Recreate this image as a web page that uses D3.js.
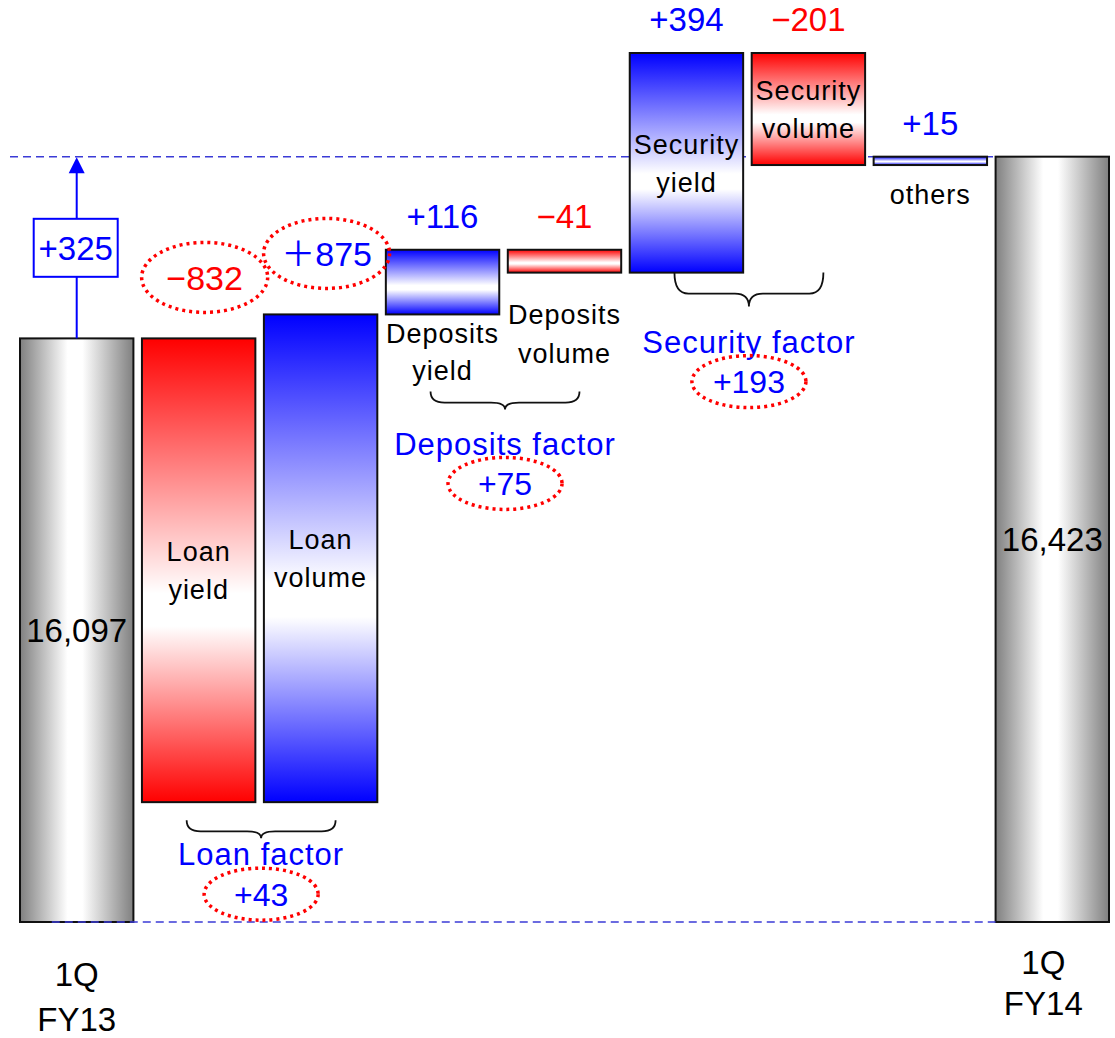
<!DOCTYPE html>
<html>
<head>
<meta charset="utf-8">
<script src="https://cdn.jsdelivr.net/npm/d3@7"></script>
<style>
  html, body { margin: 0; padding: 0; background: #fff; }
  svg { display: block; }
  text { font-family: "Liberation Sans", Arial, "Noto Sans CJK JP", sans-serif; }
</style>
</head>
<body>
<svg id="chart" width="1115" height="1038"></svg>
<script>
// ---- data ----
const categories = ["1Q FY13", "Loan yield", "Loan volume", "Deposits yield", "Deposits volume",
                    "Security yield", "Security volume", "others", "1Q FY14"];
const barNames = [["1Q", "FY13"], ["Loan", "yield"], ["Loan", "volume"], ["Deposits", "yield"],
                  ["Deposits", "volume"], ["Security", "yield"], ["Security", "volume"], ["others"], ["1Q", "FY14"]];
const startValue = 16097;
const endValue = 16423;
const overallChange = 325;           // reported change between the two quarters
const totalLabels = ["16,097", "16,423"];
const deltas = [-832, 875, 116, -41, 394, -201, 15];
const deltaLabels = ["−832", "＋875", "+116", "−41", "+394", "−201", "+15"];
const factorNames = ["Loan factor", "Deposits factor", "Security factor"];
const factorMembers = [["Loan yield", "Loan volume"], ["Deposits yield", "Deposits volume"], ["Security yield", "Security volume"]];

// ---- layout ----
const baseY = 922, topY = 53;
const axisFloor = 15050;             // value at the bottom of the visible axis
const labelInside = [false, true, true, false, false, true, true, false, false];
const circledDelta = [true, true, false, false, false, false, false];
const braceDrop = [18, 77, 0];       // gap between bars (or labels) and brace
const braceHeight = [18, 18, 34];
const factorGap = [16, 34, 35];

const BLUE = "#0000ff", RED = "#ff0000";

// running totals for the waterfall
const steps = [];
let run = startValue;
steps.push({ name: categories[0], lo: axisFloor, hi: startValue, kind: "total", label: totalLabels[0] });
deltas.forEach((d, i) => {
  const from = run; run += d;
  steps.push({ name: categories[i + 1], lo: Math.min(from, run), hi: Math.max(from, run),
               kind: d >= 0 ? "up" : "down", delta: d, label: deltaLabels[i], circled: circledDelta[i] });
});
steps.push({ name: categories[8], lo: axisFloor, hi: endValue, kind: "total", label: totalLabels[1] });

const svg = d3.select("#chart");

const x = d3.scaleBand().domain(categories).range([20, 1109]).paddingInner(0.07);
const y = d3.scaleLinear().domain([axisFloor, d3.max(steps, s => s.hi)]).range([baseY, topY]);
const bw = x.bandwidth();
const cx = n => x(n) + bw / 2;

// ---- gradients ----
const defs = svg.append("defs");
const gGray = defs.append("linearGradient").attr("id", "gGray").attr("x1", 0).attr("x2", 1).attr("y1", 0).attr("y2", 0);
[[0, "#808080"], [0.42, "#ffffff"], [0.55, "#ffffff"], [1, "#808080"]]
  .forEach(([o, c]) => gGray.append("stop").attr("offset", o).attr("stop-color", c));
function vGrad(id, col) {
  const g = defs.append("linearGradient").attr("id", id).attr("x1", 0).attr("x2", 0).attr("y1", 0).attr("y2", 1);
  [[0, col], [0.55, "#ffffff"], [0.62, "#ffffff"], [1, col]]
    .forEach(([o, c]) => g.append("stop").attr("offset", o).attr("stop-color", c));
}
vGrad("gBlue", BLUE);
vGrad("gRed", RED);
const fillFor = k => k === "total" ? "url(#gGray)" : k === "up" ? "url(#gBlue)" : "url(#gRed)";

// ---- reference lines ----
const dashColor = "#3b3bd6";
svg.append("line")
  .attr("x1", 10).attr("x2", x(categories[8]))
  .attr("y1", y(endValue)).attr("y2", y(endValue))
  .attr("stroke", dashColor).attr("stroke-width", 1.6).attr("stroke-dasharray", "8,5");

// ---- bars ----
svg.append("g").selectAll("rect").data(steps).join("rect")
  .attr("x", d => x(d.name))
  .attr("width", bw)
  .attr("y", d => y(d.hi))
  .attr("height", d => y(d.lo) - y(d.hi))
  .attr("fill", d => fillFor(d.kind))
  .attr("stroke", "#111")
  .attr("stroke-width", 2);

svg.append("line")
  .attr("x1", x(categories[0]) + bw * 0.28).attr("x2", x(categories[8]))
  .attr("y1", baseY).attr("y2", baseY)
  .attr("stroke", dashColor).attr("stroke-width", 1.6).attr("stroke-dasharray", "8,5");

// ---- bar names ----
const nameG = svg.append("g").attr("font-size", 27).attr("letter-spacing", 1).attr("fill", "#000").attr("text-anchor", "middle");
steps.forEach((s, i) => {
  if (s.kind === "total") return;
  const lines = barNames[i];
  let ys;
  if (labelInside[i]) {
    const mid = (y(s.hi) + y(s.lo)) / 2;
    ys = lines.map((_, k) => mid + (k - (lines.length - 1) / 2) * 38);
  } else if (s.name === "Deposits volume") {
    ys = lines.map((_, k) => y(s.lo) + 42 + k * 39);
  } else {
    ys = lines.map((_, k) => y(s.lo) + (lines.length > 1 ? 19 : 29) + k * 37);
  }
  lines.forEach((t, k) => nameG.append("text").attr("x", cx(s.name)).attr("y", ys[k]).attr("dy", "0.36em").text(t));
});

// ---- totals inside grey bars ----
steps.filter(s => s.kind === "total").forEach(s => {
  svg.append("text").attr("x", cx(s.name)).attr("y", (y(s.hi) + y(s.lo)) / 2).attr("dy", "0.36em")
    .attr("text-anchor", "middle").attr("font-size", 33).attr("fill", "#000").text(s.label);
});

// ---- delta labels ----
steps.forEach(s => {
  if (s.kind === "total") return;
  const col = s.delta >= 0 ? BLUE : RED;
  if (s.circled) {
    const cy = y(s.hi) - 61;
    svg.append("ellipse").attr("cx", cx(s.name) + 6).attr("cy", cy).attr("rx", 63).attr("ry", 35)
      .attr("fill", "none").attr("stroke", RED).attr("stroke-width", 3.5).attr("stroke-dasharray", "3,4");
    svg.append("text").attr("x", cx(s.name) + 6).attr("y", cy).attr("dy", "0.36em")
      .attr("text-anchor", "middle").attr("font-size", 34).attr("fill", col).text(s.label);
  } else {
    svg.append("text").attr("x", cx(s.name)).attr("y", y(s.hi) - 34).attr("dy", "0.36em")
      .attr("text-anchor", "middle").attr("font-size", 33).attr("fill", col).text(s.label);
  }
});

// ---- overall change arrow ----
const ax = cx(categories[0]);
const y0 = y(startValue), y1 = y(startValue + overallChange);
svg.append("line").attr("x1", ax).attr("x2", ax).attr("y1", y0).attr("y2", y1 + 14)
  .attr("stroke", BLUE).attr("stroke-width", 2);
svg.append("path")
  .attr("d", `M${ax},${y1} L${ax - 8},${y1 + 16} L${ax + 8},${y1 + 16} Z`)
  .attr("fill", BLUE);
const boxY = (y0 + y1) / 2;
svg.append("rect").attr("x", ax - 43).attr("y", boxY - 29).attr("width", 84).attr("height", 58)
  .attr("fill", "#fff").attr("stroke", BLUE).attr("stroke-width", 2);
svg.append("text").attr("x", ax - 1).attr("y", boxY).attr("dy", "0.36em").attr("text-anchor", "middle")
  .attr("font-size", 33).attr("fill", BLUE).text("+" + overallChange);

// ---- factor braces ----
factorMembers.forEach((members, gi) => {
  const ss = steps.filter(s => members.includes(s.name));
  const x1 = cx(members[0]) - 12;
  const x2 = cx(members[1]) + 15;
  const xm = (x1 + x2) / 2;
  const yb = d3.max(ss, s => y(s.lo)) + braceDrop[gi];
  const h = braceHeight[gi];
  const yh = yb + h * 0.62, yt = yb + h, r = 14;
  svg.append("path")
    .attr("d", `M${x1},${yb} Q${x1},${yh} ${x1 + r},${yh} L${xm - r},${yh} Q${xm},${yh} ${xm},${yt} ` +
               `Q${xm},${yh} ${xm + r},${yh} L${x2 - r},${yh} Q${x2},${yh} ${x2},${yb}`)
    .attr("fill", "none").attr("stroke", "#111").attr("stroke-width", 1.8);
  const ty = yt + factorGap[gi];
  svg.append("text").attr("x", xm).attr("y", ty).attr("dy", "0.36em").attr("text-anchor", "middle")
    .attr("font-size", 31).attr("letter-spacing", 1).attr("fill", BLUE).text(factorNames[gi]);
  const sum = d3.sum(ss, s => s.delta);
  const ey = ty + 40;
  svg.append("ellipse").attr("cx", xm).attr("cy", ey).attr("rx", 57).attr("ry", 26)
    .attr("fill", "none").attr("stroke", RED).attr("stroke-width", 3.5).attr("stroke-dasharray", "3,4");
  svg.append("text").attr("x", xm).attr("y", ey).attr("dy", "0.36em").attr("text-anchor", "middle")
    .attr("font-size", 32).attr("fill", BLUE).text((sum >= 0 ? "+" : "−") + Math.abs(sum));
});

// ---- period axis ----
const axisG = svg.append("g").attr("transform", `translate(0,${baseY})`)
  .call(d3.axisBottom(x).tickValues([categories[0], categories[8]]).tickSize(0).tickFormat(""));
axisG.select(".domain").remove();
axisG.selectAll(".tick text").each(function (d) {
  const last = d === categories[8];
  const lines = barNames[categories.indexOf(d)];
  const t = d3.select(this).attr("font-size", 33).attr("fill", "#000")
    .attr("font-family", "'Liberation Sans', Arial, sans-serif").attr("dy", null).attr("y", 0);
  lines.forEach((l, k) => t.append("tspan").attr("x", last ? -9 : 0)
    .attr("y", (last ? 52 : 64) + k * (last ? 41 : 45)).text(l));
});
</script>
</body>
</html>
